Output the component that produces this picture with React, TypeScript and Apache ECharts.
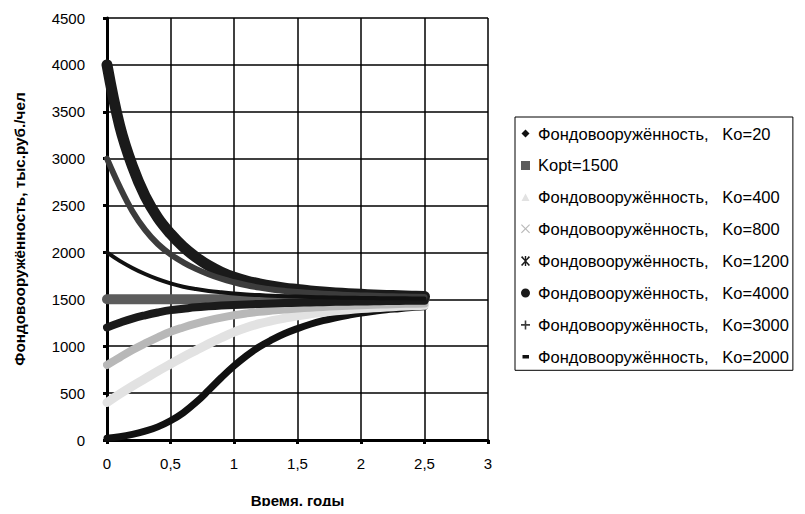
import React, { useEffect, useRef } from "react";
import * as echarts from "echarts";

// time, years
const T = [0, 0.1, 0.2, 0.3, 0.4, 0.5, 0.6, 0.7, 0.8, 0.9, 1.0, 1.1, 1.2, 1.3, 1.4, 1.5, 1.6, 1.7, 1.8, 1.9, 2.0, 2.1, 2.2, 2.3, 2.4, 2.5];

const K20 = [20, 35, 60, 95, 140, 205, 290, 400, 530, 665, 790, 900, 995, 1070, 1135, 1188, 1234, 1272, 1303, 1330, 1354, 1372, 1388, 1400, 1412, 1422];
const KOPT_T = [0, 2.5];
const KOPT = [1500, 1500];
const K400 = [400, 490, 575, 655, 735, 810, 885, 955, 1025, 1090, 1150, 1200, 1240, 1272, 1300, 1325, 1345, 1362, 1377, 1390, 1401, 1410, 1418, 1425, 1431, 1436];
const K800 = [800, 880, 960, 1030, 1095, 1155, 1200, 1240, 1275, 1305, 1330, 1350, 1367, 1380, 1392, 1402, 1411, 1419, 1426, 1432, 1437, 1442, 1446, 1450, 1453, 1456];
const K1200 = [1200, 1250, 1295, 1330, 1360, 1385, 1400, 1415, 1425, 1433, 1440, 1446, 1451, 1456, 1460, 1464, 1467, 1470, 1473, 1475, 1477, 1479, 1481, 1483, 1484, 1485];
const K4000 = [4000, 3350, 2920, 2600, 2370, 2200, 2060, 1950, 1860, 1790, 1735, 1695, 1665, 1640, 1620, 1605, 1590, 1578, 1568, 1560, 1553, 1547, 1542, 1538, 1534, 1530];
const K3000 = [3000, 2700, 2440, 2240, 2090, 1980, 1895, 1825, 1768, 1720, 1682, 1650, 1625, 1605, 1590, 1578, 1568, 1560, 1553, 1547, 1542, 1538, 1534, 1531, 1528, 1525];
const K2000 = [2000, 1910, 1835, 1770, 1715, 1670, 1635, 1610, 1590, 1575, 1562, 1552, 1545, 1538, 1533, 1529, 1525, 1522, 1519, 1517, 1515, 1513, 1512, 1511, 1510, 1509];

const NAMES = [
  "Фондовооружённость,   Ko=20",
  "Kopt=1500",
  "Фондовооружённость,   Ko=400",
  "Фондовооружённость,   Ko=800",
  "Фондовооружённость,   Ko=1200",
  "Фондовооружённость,   Ko=4000",
  "Фондовооружённость,   Ko=3000",
  "Фондовооружённость,   Ko=2000",
];

const X_TITLE = "Время, годы";
const Y_TITLE = "Фондовооружённость, тыс.руб./чел";

// icons drawn inside an 18 x 10 box (tiny corner marks fix the box)
const BOX = "M0,0L0.01,0L0,0.01Z M18,10L17.99,10L18,9.99Z ";
const ICON_DIAMOND = "path://" + BOX + "M10.5,1L14.5,5L10.5,9L6.5,5Z";
const ICON_RECT = "path://" + BOX + "M6,0.5H15V9.5H6Z";
const ICON_TRI = "path://" + BOX + "M10.5,1.2L14.5,8.8H6.5Z";
const ICON_X = "path://" + BOX + "M6,0.8L6.8,0L10.5,3.7L14.2,0L15,0.8L11.3,4.5L15,8.2L14.2,9L10.5,5.3L6.8,9L6,8.2L9.7,4.5Z";
const ICON_ZH = "path://" + BOX + "M9.8,0H11.2V10H9.8Z M6,1.2L7.2,0L10.5,3.8L13.8,0L15,1.2L11.3,5L15,8.8L13.8,10L10.5,6.2L7.2,10L6,8.8L9.7,5Z";
const ICON_CIRCLE = "path://" + BOX + "M6,5A4.5,4.5,0,1,0,15,5A4.5,4.5,0,1,0,6,5Z";
const ICON_PLUS = "path://" + BOX + "M9.7,0.5H11.3V4.2H15V5.8H11.3V9.5H9.7V5.8H6V4.2H9.7Z";
const ICON_DASH = "path://" + BOX + "M7.5,3.3H14V6.7H7.5Z";

const ICONS = [ICON_DIAMOND, ICON_RECT, ICON_TRI, ICON_X, ICON_ZH, ICON_CIRCLE, ICON_PLUS, ICON_DASH];
const COLORS = ["#111111", "#5c5c5c", "#e2e2e2", "#b8b8b8", "#1a1a1a", "#1a1a1a", "#3c3c3c", "#111111"];
const WIDTHS = [7, 10, 9, 8, 8, 11, 6, 4];

const FONT = "'Liberation Sans', Arial, sans-serif";

export default function App() {
  const ref = useRef<HTMLDivElement>(null);
  useEffect(() => {
    if (!ref.current) return;
    const chart = echarts.init(ref.current, null, { renderer: "svg" });
    const seriesData = [K20, KOPT, K400, K800, K1200, K4000, K3000, K2000];
    const series = seriesData.map((arr, i) => {
      const xs = i === 1 ? KOPT_T : T;
      return {
        name: NAMES[i],
        type: "line",
        data: arr.map((v, j) => [xs[j], v]),
        smooth: 0.4,
        showSymbol: false,
        symbol: "none",
        color: COLORS[i],
        itemStyle: { color: COLORS[i] },
        lineStyle: { color: COLORS[i], width: WIDTHS[i], cap: "round", join: "round" },
        z: 2 + i,
      };
    });
    chart.setOption({
      animation: false,
      backgroundColor: "#ffffff",
      grid: { left: 107, right: 317, top: 18, bottom: 74, containLabel: false },
      xAxis: {
        type: "value",
        min: 0,
        max: 3,
        interval: 0.5,
        name: X_TITLE,
        nameLocation: "middle",
        nameGap: 53,
        nameTextStyle: { fontFamily: FONT, fontSize: 15, fontWeight: "bold", color: "#000" },
        axisLine: { show: true, onZero: false, lineStyle: { color: "#000", width: 3 } },
        axisTick: { show: true, length: 4, lineStyle: { color: "#000", width: 3 } },
        axisLabel: {
          fontFamily: FONT,
          fontSize: 15,
          color: "#000",
          margin: 16,
          formatter: (v: number) => String(v).replace(".", ","),
        },
        splitLine: { show: true, lineStyle: { color: "#000", width: 1.5 } },
      },
      yAxis: {
        type: "value",
        min: 0,
        max: 4500,
        interval: 500,
        name: Y_TITLE,
        nameLocation: "middle",
        nameRotate: 90,
        nameGap: 80,
        nameTextStyle: { fontFamily: FONT, fontSize: 15.3, fontWeight: "bold", color: "#000" },
        axisLine: { show: true, onZero: false, lineStyle: { color: "#000", width: 3 } },
        axisTick: { show: true, length: 4, lineStyle: { color: "#000", width: 3 } },
        axisLabel: {
          fontFamily: FONT,
          fontSize: 15,
          color: "#000",
          margin: 22,
          formatter: (v: number) => String(v),
        },
        splitLine: { show: true, lineStyle: { color: "#000", width: 1.5 } },
      },
      legend: {
        orient: "vertical",
        left: 515,
        top: 117,
        itemWidth: 18,
        itemHeight: 10,
        itemGap: 14.9,
        padding: [8, 4, 5, 0],
        borderColor: "#000",
        borderWidth: 1,
        borderRadius: 0,
        symbolKeepAspect: true,
        textStyle: { fontFamily: FONT, fontSize: 16.5, color: "#000" },
        data: NAMES.map((n, i) => ({ name: n, icon: ICONS[i] })),
      },
      series,
    });
    return () => chart.dispose();
  }, []);
  return <div ref={ref} style={{ width: 805, height: 514, margin: -8 }} />;
}
